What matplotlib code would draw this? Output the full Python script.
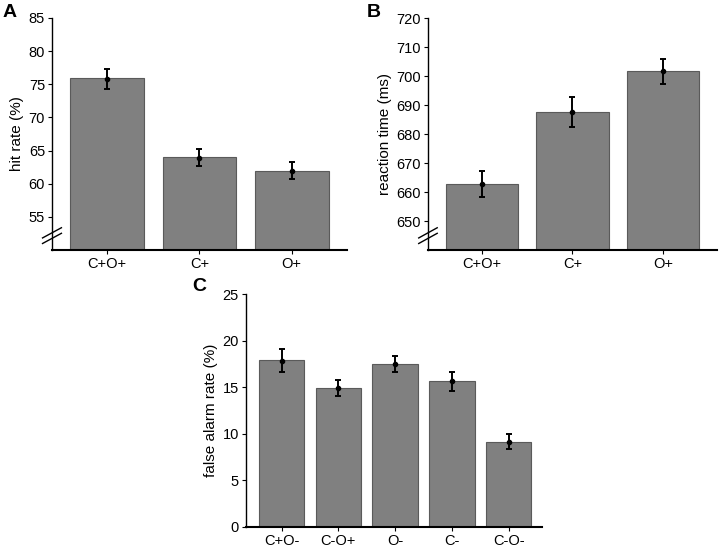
import numpy as np
import matplotlib
matplotlib.use("Agg")
import matplotlib.pyplot as plt

plt.rcParams["font.family"] = ["Liberation Sans", "DejaVu Sans"]

# ---- panel A: hit rate ----
cats_ab = ["C+O+", "C+", "O+"]
hit_bar = [76.0, 64.0, 61.9]
hit_mean = [75.85, 63.95, 61.95]
hit_err = [1.5, 1.3, 1.3]

# ---- panel B: reaction time ----
rt_bar = [662.8, 687.7, 701.9]
rt_mean = [662.7, 687.8, 701.7]
rt_err = [4.5, 5.2, 4.4]

# ---- panel C: false alarm rate ----
cats_c = ["C+O-", "C-O+", "O-", "C-", "C-O-"]
fa_bar = [17.9, 14.9, 17.45, 15.6, 9.15]
fa_mean = [17.85, 14.9, 17.45, 15.6, 9.15]
fa_err = [1.25, 0.9, 0.85, 1.05, 0.8]

BAR_COLOR = "#808080"
EDGE_COLOR = "#5a5a5a"


def bar_panel(ax, cats, bars, means, errs, ylim, yticks, ylabel, broken):
    x = np.arange(len(cats))
    base = ylim[0] if broken else 0
    ax.bar(x, np.array(bars) - base, bottom=base, width=0.8, color=BAR_COLOR,
           edgecolor=EDGE_COLOR, linewidth=0.8)
    ax.errorbar(x, means, yerr=errs, fmt="o", ms=3, color="black", ecolor="black",
                elinewidth=1.4, capsize=2, capthick=1.4)
    ax.set_xlim(-0.6, len(cats) - 0.4)
    ax.set_ylim(*ylim)
    ax.set_yticks(yticks)
    ax.set_xticks(x)
    ax.set_xticklabels(cats)
    ax.set_ylabel(ylabel, fontsize=11, labelpad=3)
    for s in ("top", "right"):
        ax.spines[s].set_visible(False)
    ax.spines["left"].set_linewidth(1.0)
    ax.spines["bottom"].set_linewidth(1.5)
    ax.tick_params(axis="both", labelsize=10.5, length=3, width=0.8, pad=2)
    if broken:
        # double-slash axis break near the floor
        for dy in (-0.012, 0.012):
            ax.plot([-0.032, 0.032], [0.062 + dy - 0.022, 0.062 + dy + 0.022],
                    transform=ax.transAxes, color="black", lw=1.0, clip_on=False)


fig = plt.figure(figsize=(7.2, 5.48), dpi=100)
axA = fig.add_axes([0.0722, 0.5438, 0.4097, 0.4234])
axB = fig.add_axes([0.5944, 0.5438, 0.4014, 0.4228])
axC = fig.add_axes([0.3413, 0.0389, 0.411, 0.4246])

bar_panel(axA, cats_ab, hit_bar, hit_mean, hit_err, (50, 85), [55, 60, 65, 70, 75, 80, 85],
          "hit rate (%)", True)
bar_panel(axB, cats_ab, rt_bar, rt_mean, rt_err, (640, 720),
          [650, 660, 670, 680, 690, 700, 710, 720], "reaction time (ms)", True)
bar_panel(axC, cats_c, fa_bar, fa_mean, fa_err, (0, 25), [0, 5, 10, 15, 20, 25],
          "false alarm rate (%)", False)
axC.set_xlim(-0.63, 4.58)

for letter, fx, fy in [("A", 0.003, 0.978), ("B", 0.509, 0.978), ("C", 0.267, 0.478)]:
    fig.text(fx, fy, letter, fontsize=14, fontweight="bold", va="center", ha="left")

fig.savefig("out.png", dpi=100)
